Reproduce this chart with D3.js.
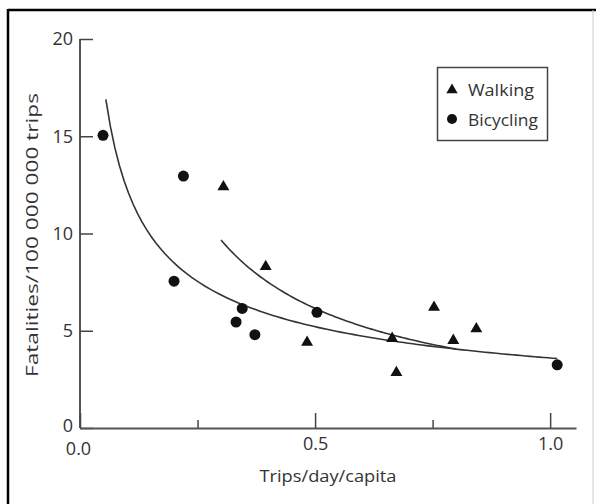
<!DOCTYPE html>
<html lang="en">
<head>
  <meta charset="utf-8">
  <title>Fatalities vs trips per day</title>
  <script src="https://cdn.jsdelivr.net/npm/d3@7"></script>
  <style>
    html, body { margin: 0; padding: 0; background: #fff; }
    svg { display: block; }
    text { font-family: "Open Sans", Lato, sans-serif; fill: #333; }
  </style>
</head>
<body>
<div id="chart"></div>
<script>
// data
var walkingX = [0.305, 0.395, 0.483, 0.664, 0.673, 0.753, 0.794, 0.843];
var walkingY = [12.4, 8.3, 4.4, 4.6, 2.85, 6.2, 4.5, 5.1];
var bicyclingX = [0.049, 0.22, 0.20, 0.345, 0.332, 0.372, 0.504, 1.015];
var bicyclingY = [15.05, 12.95, 7.55, 6.15, 5.45, 4.8, 5.95, 3.25];

// fitted power curves y = a * x^b
var walkingFit = {a: 3.33, b: -0.885, from: 0.30, to: 0.80};
var bicyclingFit = {a: 3.6, b: -0.533, from: 0.055, to: 1.015};

var yTicks = [0, 5, 10, 15, 20];
var xMajor = [0, 0.5, 1.0];
var xMinor = [0.25, 0.75];
var xLabels = ["0.0", "0.5", "1.0"];

var width = 596, height = 504;
var font = '"Open Sans", Lato, sans-serif';

var svg = d3.select('#chart').append('svg')
  .attr('width', width)
  .attr('height', height);

// frame
svg.append('line').attr('x1', 8).attr('x2', 596).attr('y1', 10).attr('y2', 10)
  .attr('stroke', '#000').attr('stroke-width', 2.5);
svg.append('line').attr('x1', 8).attr('x2', 8).attr('y1', 9).attr('y2', 504)
  .attr('stroke', '#000').attr('stroke-width', 2.5);
svg.append('line').attr('x1', 593).attr('x2', 593).attr('y1', 10).attr('y2', 504)
  .attr('stroke', '#ccc').attr('stroke-width', 1);

var x = d3.scaleLinear().domain([0, 1.055]).range([80, 576]);
var y = d3.scaleLinear().domain([0, 20]).range([428, 39]);

// y axis, ticks pointing inward
var yAxis = svg.append('g')
  .attr('transform', 'translate(' + x(0) + ',0)')
  .call(d3.axisLeft(y).tickValues(yTicks).tickSizeInner(-13).tickSizeOuter(0).tickPadding(7));
yAxis.select('.domain').attr('d', 'M0,' + y(0) + 'V' + y(20));

// x axis minor ticks
svg.append('g')
  .attr('transform', 'translate(0,' + y(0) + ')')
  .call(d3.axisBottom(x).tickValues(xMinor).tickSize(-8).tickFormat(''))
  .select('.domain').remove();

// x axis major ticks + labels
var xAxis = svg.append('g')
  .attr('transform', 'translate(0,' + y(0) + ')')
  .call(d3.axisBottom(x).tickValues(xMajor).tickSizeInner(-15).tickSizeOuter(0).tickPadding(9)
    .tickFormat(function(d, i) { return xLabels[i]; }));

svg.selectAll('.domain').attr('stroke', '#555').attr('stroke-width', 2);
svg.selectAll('.tick line').attr('stroke', '#444').attr('stroke-width', 1.5);
svg.selectAll('.tick text').attr('font-size', 18).attr('fill', '#333')
  .style('font-family', font);

// 0.0 label sits a bit below the y "0"
xAxis.selectAll('.tick text').filter(function(d) { return d === 0; }).attr('dx', -2).attr('y', 14);
yAxis.selectAll('.tick text').filter(function(d) { return d === 0; }).attr('dy', '0.2em');

// axis titles
svg.append('text')
  .attr('x', 328).attr('y', 482)
  .attr('text-anchor', 'middle')
  .attr('font-size', 17)
  .attr('textLength', 137).attr('lengthAdjust', 'spacingAndGlyphs')
  .text('Trips/day/capita');

svg.append('text')
  .attr('transform', 'translate(38,235) rotate(-90)')
  .attr('text-anchor', 'middle')
  .attr('font-size', 17)
  .attr('textLength', 284).attr('lengthAdjust', 'spacingAndGlyphs')
  .text('Fatalities/100 000 000 trips');

// fitted curves
var line = d3.line().x(function(d) { return x(d[0]); }).y(function(d) { return y(d[1]); });
[walkingFit, bicyclingFit].forEach(function(f) {
  var pts = d3.range(0, 101).map(function(i) {
    var xv = f.from + (f.to - f.from) * i / 100;
    return [xv, f.a * Math.pow(xv, f.b)];
  });
  svg.append('path').attr('d', line(pts))
    .attr('fill', 'none').attr('stroke', '#333').attr('stroke-width', 1.6);
});

// points
var tri = d3.symbol().type(d3.symbolTriangle).size(62);
svg.append('g').selectAll('path')
  .data(walkingX)
  .enter().append('path')
  .attr('d', tri)
  .attr('transform', function(d, i) { return 'translate(' + x(d) + ',' + y(walkingY[i]) + ')'; })
  .attr('fill', '#111');

svg.append('g').selectAll('circle')
  .data(bicyclingX)
  .enter().append('circle')
  .attr('cx', function(d) { return x(d); })
  .attr('cy', function(d, i) { return y(bicyclingY[i]); })
  .attr('r', 5.5)
  .attr('fill', '#111');

// legend
var legend = svg.append('g');
legend.append('rect')
  .attr('x', 437.5).attr('y', 67.5).attr('width', 110).attr('height', 73)
  .attr('fill', '#fff').attr('stroke', '#444').attr('stroke-width', 1.5);
legend.append('path').attr('d', d3.symbol().type(d3.symbolTriangle).size(55)())
  .attr('transform', 'translate(452,90)').attr('fill', '#111');
legend.append('circle').attr('cx', 452).attr('cy', 119).attr('r', 5).attr('fill', '#111');
legend.append('text').attr('x', 468).attr('y', 96).attr('font-size', 17)
  .attr('textLength', 66).attr('lengthAdjust', 'spacingAndGlyphs').text('Walking');
legend.append('text').attr('x', 468).attr('y', 126).attr('font-size', 17)
  .attr('textLength', 70).attr('lengthAdjust', 'spacingAndGlyphs').text('Bicycling');
</script>
</body>
</html>
